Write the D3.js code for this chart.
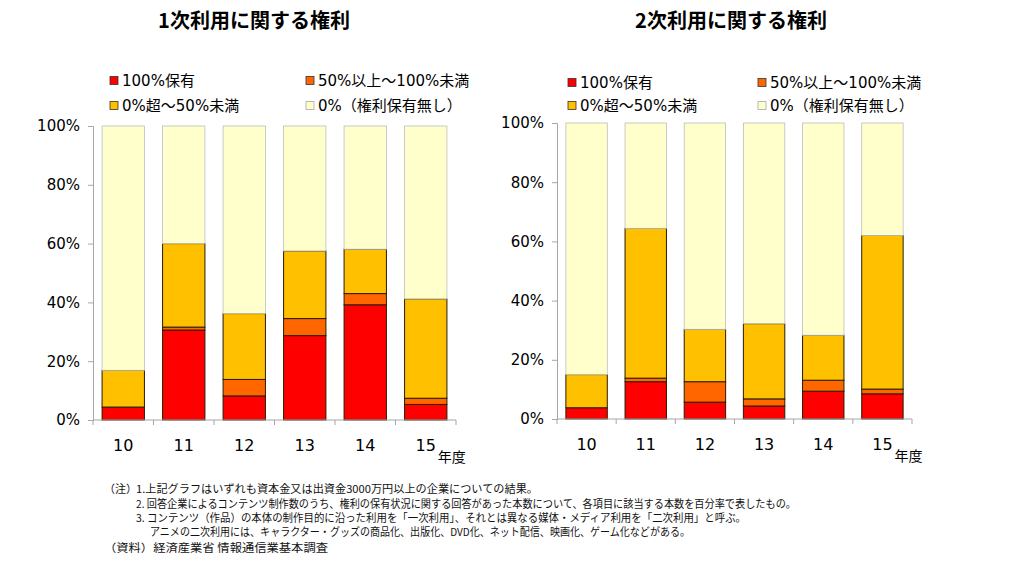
<!DOCTYPE html>
<html><head><meta charset="utf-8">
<script src="https://cdn.jsdelivr.net/npm/d3@7"></script>
<style>
html,body{margin:0;padding:0;background:#fff;}
svg{display:block;}
</style></head>
<body>
<svg id="c" width="1024" height="573"></svg>
<script>
// ---- data ----
const years = ["10","11","12","13","14","15"];
const seriesNames = ["100%保有","50%以上～100%未満","0%超～50%未満","0%（権利保有無し）"];
const seriesColors = ["#FF0000","#FF6600","#FFC000","#FFFFCC"];
const yTicks = [0,20,40,60,80,100];

// 1次利用 (segment sizes, %)
const first_full   = [4.4, 30.6, 8.2, 28.7, 39.2, 5.3];
const first_half   = [0.0, 1.0, 5.6, 5.8, 3.8, 2.1];
const first_part   = [12.5, 28.4, 22.4, 23.0, 15.1, 33.8];
const first_none   = [83.1, 40.0, 63.8, 42.5, 41.9, 58.8];
// 2次利用
const second_full  = [3.8, 12.6, 5.7, 4.4, 9.4, 8.5];
const second_half  = [0.0, 1.2, 6.9, 2.4, 3.7, 1.6];
const second_part  = [11.2, 50.6, 17.7, 25.4, 15.2, 51.9];
const second_none  = [85.0, 35.6, 69.7, 67.8, 71.7, 38.0];

const titles = ["1次利用に関する権利","2次利用に関する権利"];
const yearUnit = "年度";
const notes = [
 {t:"（注）", x:104, y:493},
 {t:"1.上記グラフはいずれも資本金又は出資金3000万円以上の企業についての結果。", x:136, y:493, w:402},
 {t:"2. 回答企業によるコンテンツ制作数のうち、権利の保有状況に関する回答があった本数について、各項目に該当する本数を百分率で表したもの。", x:136, y:508, w:660},
 {t:"3. コンテンツ（作品）の本体の制作目的に沿った利用を「一次利用」、それとは異なる媒体・メディア利用を「二次利用」と呼ぶ。", x:136, y:522, w:610},
 {t:"アニメの二次利用には、キャラクター・グッズの商品化、出版化、DVD化、ネット配信、映画化、ゲーム化などがある。", x:150, y:536, w:540},
 {t:"（資料）経済産業省  情報通信業基本調査", x:104, y:552, w:224}
];

const svg = d3.select("#c");
const latin = "'DejaVu Sans','Noto Sans CJK JP',sans-serif";
const cjk = "'Noto Sans CJK JP','DejaVu Sans',sans-serif";

function toRows(a,b,c,d){ return years.map((y,i)=>({year:y, s0:a[i], s1:b[i], s2:c[i], s3:d[i]})); }

const panels = [
 {rows:toRows(first_full,first_half,first_part,first_none), x0:93, x1:456, yTop:126, yBot:420, title:titles[0], tx:254, legX:[110,306], legY:[81,106]},
 {rows:toRows(second_full,second_half,second_part,second_none), x0:557, x1:912, yTop:123, yBot:419, title:titles[1], tx:731, legX:[568,758], legY:[83,106]}
];

panels.forEach(p=>{
  const g = svg.append("g");
  const x = d3.scaleBand().domain(years).range([p.x0,p.x1]).paddingInner(0.3).paddingOuter(0.15);
  const y = d3.scaleLinear().domain([0,100]).range([p.yBot,p.yTop]);
  const stack = d3.stack().keys(["s0","s1","s2","s3"])(p.rows);

  g.append("text").attr("x",p.tx).attr("y",28).attr("text-anchor","middle")
    .attr("font-family",cjk).attr("font-weight","bold").attr("font-size",20).attr("fill","#000").text(p.title);

  seriesNames.forEach((n,i)=>{
    const lx = p.legX[i%2], ly = p.legY[Math.floor(i/2)];
    g.append("rect").attr("x",lx).attr("y",ly-4.5).attr("width",8).attr("height",8)
      .attr("fill",seriesColors[i]).attr("stroke", i===3?"#aaa":"#333").attr("stroke-width",0.8);
    g.append("text").attr("x",lx+12).attr("y",ly+5).attr("font-family",latin).attr("font-size",15)
      .attr("fill","#000").text(n);
  });

  stack.forEach((layer,si)=>{
    g.append("g").selectAll("rect").data(layer).join("rect")
      .attr("x",d=>x(d.data.year)).attr("width",x.bandwidth())
      .attr("y",d=>y(d[1])).attr("height",d=>Math.max(0,y(d[0])-y(d[1])))
      .attr("fill",seriesColors[si])
      .attr("stroke", si===3?"#bdbdbd":"#2a1d00").attr("stroke-width",si===3?0.8:1);
  });

  const ya = d3.axisLeft(y).tickValues(yTicks).tickFormat(d=>d+"%").tickSize(5).tickPadding(8);
  const yg = g.append("g").attr("transform",`translate(${p.x0},0)`).call(ya);
  yg.select(".domain").attr("stroke","#a6a6a6");
  yg.selectAll(".tick line").attr("stroke","#a6a6a6");
  yg.selectAll("text").attr("font-family",latin).attr("font-size",15).attr("fill","#000");

  g.append("line").attr("x1",p.x0).attr("x2",p.x1).attr("y1",p.yBot).attr("y2",p.yBot).attr("stroke","#a6a6a6");
  d3.range(years.length+1).forEach(i=>{
    const tx = p.x0 + i*(p.x1-p.x0)/years.length;
    g.append("line").attr("x1",tx).attr("x2",tx).attr("y1",p.yBot).attr("y2",p.yBot+5).attr("stroke","#a6a6a6");
  });
  g.append("g").selectAll("text").data(years).join("text")
    .attr("x",d=>x(d)+x.bandwidth()/2).attr("y",p.yBot+31).attr("text-anchor","middle")
    .attr("font-family",latin).attr("font-size",16).attr("fill","#000").text(d=>d);
  g.append("text").attr("x",x(years[years.length-1])+x.bandwidth()/2+12).attr("y",p.yBot+42)
    .attr("font-family",cjk).attr("font-size",14).attr("fill","#000").text(yearUnit);
});

const ng = svg.append("g");
notes.forEach(n=>{
  const t = ng.append("text").attr("x",n.x).attr("y",n.y).attr("font-family",cjk).attr("font-size",11).attr("fill","#111").text(n.t);
  if(n.w) t.attr("textLength",n.w).attr("lengthAdjust","spacingAndGlyphs");
});
</script>
</body></html>
